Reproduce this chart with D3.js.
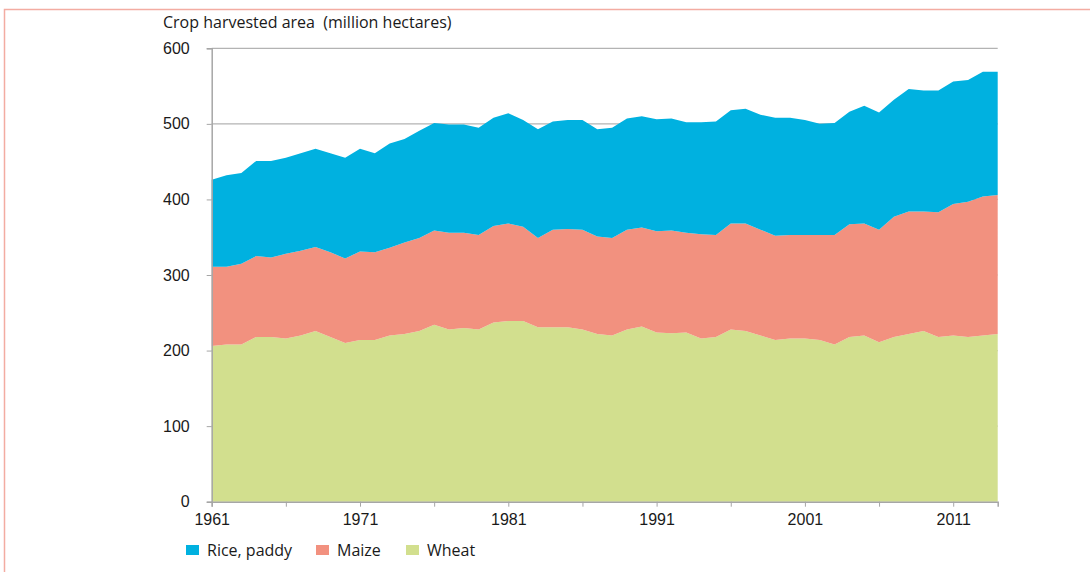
<!DOCTYPE html>
<html>
<head>
<meta charset="utf-8">
<script src="https://cdn.jsdelivr.net/npm/d3@7"></script>
<style>
  body { margin: 0; background: #fff; }
  svg { font-family: "Open Sans", Lato, sans-serif; }
  .title { white-space: pre; }
</style>
</head>
<body>
<svg id="chart" width="1090" height="572"></svg>
<script>
// years 1961 - 2014
const years = d3.range(1961, 2015)

// million hectares
const wheat = [206,208,208,218,218,216,220,226,218,210,214,214,220,222,226,234,228,230,228,237,
               239,239,231,231,231,228,222,220,228,232,224,223,224,216,218,228,226,220,214,216,
               216,214,208,218,220,211,218,222,226,218,220,218,220,222]
const maize = [105,103,107,107,105,112,112,111,112,112,117,116,116,121,123,125,128,126,125,128,
               129,125,118,129,130,132,129,129,132,131,134,136,132,138,135,140,142,140,138,137,
               137,139,145,149,148,149,159,162,158,165,174,179,184,184]
const rice  = [115,121,120,126,128,127,129,130,131,133,136,131,138,137,142,142,143,143,142,143,
               146,141,144,143,144,145,142,146,147,147,148,148,146,148,150,150,152,152,156,155,
               152,147,148,149,156,155,155,162,160,161,162,161,165,163]

const seriesNames = ['Wheat', 'Maize', 'Rice, paddy']
const legendNames = ['Rice, paddy', 'Maize', 'Wheat']
const yTicks = [0, 100, 200, 300, 400, 500, 600]
const xTicks = d3.range(1961, 2015, 5)
const xLabels = [1961, 1971, 1981, 1991, 2001, 2011]

const colors = { 'Wheat': '#d2df8e', 'Maize': '#f2917f', 'Rice, paddy': '#00b1e0' }

const rows = years.map((y, i) => ({ year: y, 'Wheat': wheat[i], 'Maize': maize[i], 'Rice, paddy': rice[i] }))

const margin = { left: 211.7, right: 997.7, top: 48.3, bottom: 501.7 }
const svg = d3.select('#chart')

// page frame
svg.append('rect')
    .attr('x', 4.5).attr('y', 9.5)
    .attr('width', 1200).attr('height', 700)
    .attr('fill', 'none')
    .attr('stroke', '#f3aca2')
    .attr('stroke-width', 1.5)

const x = d3.scaleLinear().domain([1961, 2014]).range([margin.left, margin.right])
const y = d3.scaleLinear().domain([0, 600]).range([margin.bottom, margin.top])

// gridlines
svg.append('g')
    .selectAll('line')
    .data(yTicks.slice(1))
    .join('line')
    .attr('x1', margin.left).attr('x2', margin.right)
    .attr('y1', d => y(d)).attr('y2', d => y(d))
    .attr('stroke', '#b3b3b3')
    .attr('stroke-width', 1.2)

const stack = d3.stack().keys(seriesNames)
const layers = stack(rows)

const area = d3.area()
    .x(d => x(d.data.year))
    .y0(d => y(d[0]))
    .y1(d => y(d[1]))

svg.append('g')
    .selectAll('path')
    .data(layers)
    .join('path')
    .attr('d', area)
    .attr('fill', d => colors[d.key])

// y axis
const yAxis = svg.append('g')
    .attr('transform', `translate(${margin.left},0)`)
    .call(d3.axisLeft(y).tickValues(yTicks).tickSize(5).tickPadding(17))
yAxis.select('.domain').attr('stroke', '#a6a6a6').attr('stroke-width', 1.5)
yAxis.selectAll('.tick line').attr('stroke', '#a6a6a6')
yAxis.selectAll('.tick text')
    .attr('fill', '#1a1a1a')
    .style('font-size', '16px')

// x axis
const xAxis = svg.append('g')
    .attr('transform', `translate(0,${margin.bottom})`)
    .call(d3.axisBottom(x).tickValues(xTicks).tickSize(5).tickPadding(7)
        .tickFormat(d => xLabels.includes(d) ? d : ''))
xAxis.select('.domain').attr('stroke', '#a6a6a6').attr('stroke-width', 1.5)
xAxis.selectAll('.tick line').attr('stroke', '#a6a6a6')
xAxis.selectAll('.tick text')
    .attr('fill', '#1a1a1a')
    .style('font-size', '16px')

// title
svg.append('text')
    .attr('class', 'title')
    .attr('x', 163)
    .attr('y', 28)
    .attr('fill', '#1a1a1a')
    .style('font-size', '16px')
    .text('Crop harvested area  (million hectares)')

// legend
const legendX = [186, 316, 406]
const legend = svg.append('g')
    .selectAll('g')
    .data(legendNames)
    .join('g')
    .attr('transform', (d, i) => `translate(${legendX[i]},545)`)

legend.append('rect')
    .attr('width', 13).attr('height', 10)
    .attr('fill', d => colors[d])

legend.append('text')
    .attr('x', 21)
    .attr('y', 11)
    .attr('fill', '#1a1a1a')
    .style('font-size', '16px')
    .text(d => d)
</script>
</body>
</html>
